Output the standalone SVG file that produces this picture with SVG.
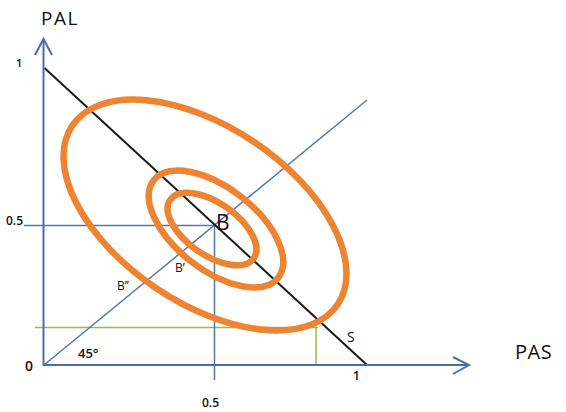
<svg xmlns="http://www.w3.org/2000/svg" width="566" height="412" viewBox="0 0 566 412">
<style>
.ax{stroke:#4a6fa8;stroke-width:2;fill:none}
.bl{stroke:#5577b0;stroke-width:1.5;fill:none}
.gr{stroke:#9aba3c;stroke-width:1.5;fill:none}
.el{stroke:#ee8432;stroke-width:6.5;fill:none}
.t{font-family:"Open Sans","Liberation Sans",Arial,sans-serif;fill:#111}
.s{font-weight:600}
</style>
<rect width="566" height="412" fill="#ffffff"/>
<g id="connectors">
<line class="gr" x1="35" y1="327.5" x2="318" y2="327.5"/>
<line class="gr" x1="316" y1="319" x2="316" y2="365"/>
<line class="bl" x1="24" y1="225.5" x2="215" y2="225.5"/>
<line class="bl" x1="214.5" y1="225" x2="214.5" y2="380"/>
<line class="bl" x1="44" y1="365" x2="367" y2="100"/>
<line x1="44.5" y1="68" x2="367" y2="365" stroke="#1a1a1a" stroke-width="2"/>
<line class="ax" x1="43.5" y1="366" x2="43.5" y2="39"/>
<polyline class="ax" points="35,55 43.5,39 52,55"/>
<line class="ax" x1="43" y1="365" x2="469" y2="365"/>
<polyline class="ax" points="453,357 469,365 453,374"/>
</g>
<g id="ellipse-large"><ellipse class="el" cx="0" cy="0" rx="160" ry="88" transform="translate(205 215) rotate(34)"/></g>
<g id="ellipse-middle"><ellipse class="el" cx="0" cy="0" rx="79" ry="41" transform="translate(216 229) rotate(38)"/></g>
<g id="ellipse-inner"><ellipse class="el" cx="0" cy="0" rx="51" ry="26" transform="translate(212 229) rotate(35)"/></g>
<g id="labels">
<text class="t" x="41" y="25" font-size="19" letter-spacing="1.5">PAL</text>
<text class="t" x="515" y="359" font-size="20" letter-spacing="0.5">PAS</text>
<text class="t s" x="16" y="67" font-size="11">1</text>
<text class="t s" x="6" y="225" font-size="12">0.5</text>
<text class="t s" x="25" y="371" font-size="14">0</text>
<text class="t s" x="78" y="358" font-size="13">45°</text>
<text class="t s" x="202" y="407" font-size="12">0.5</text>
<text class="t s" x="353" y="380" font-size="12">1</text>
<text class="t" x="347" y="342" font-size="14">S</text>
<text class="t" x="216" y="230" font-size="21">B</text>
<text class="t" x="175" y="272" font-size="12">B’</text>
<text class="t" x="117" y="290" font-size="12">B’’</text>
</g>
</svg>
